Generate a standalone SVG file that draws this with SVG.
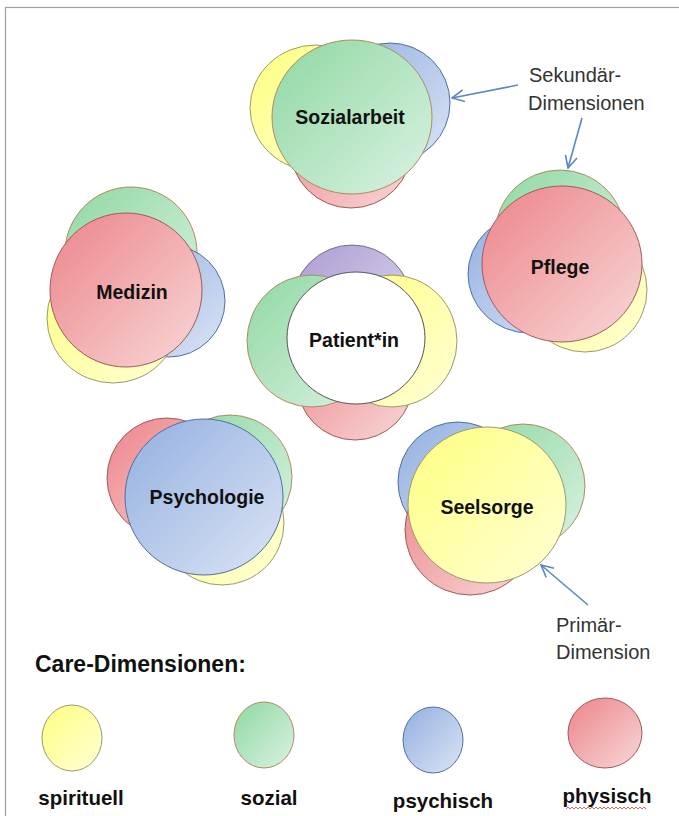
<svg xmlns="http://www.w3.org/2000/svg" width="679" height="816" viewBox="0 0 679 816">
<defs>
<linearGradient id="gY" x1="0" y1="0" x2="1" y2="1"><stop offset="0" stop-color="#ffff80"/><stop offset="1" stop-color="#ffffd6"/></linearGradient>
<linearGradient id="gG" x1="0" y1="0" x2="1" y2="1"><stop offset="0" stop-color="#8fd8a2"/><stop offset="1" stop-color="#daf2e2"/></linearGradient>
<linearGradient id="gB" x1="0" y1="0" x2="1" y2="1"><stop offset="0" stop-color="#93b0e0"/><stop offset="1" stop-color="#dbe4f4"/></linearGradient>
<linearGradient id="gR" x1="0" y1="0" x2="1" y2="1"><stop offset="0" stop-color="#ec8489"/><stop offset="1" stop-color="#f8d8d8"/></linearGradient>
<linearGradient id="gP" x1="0" y1="0" x2="1" y2="1"><stop offset="0" stop-color="#ab9cd2"/><stop offset="1" stop-color="#e2dcef"/></linearGradient>
<marker id="ah" viewBox="0 0 14 14" refX="13" refY="7" markerWidth="14" markerHeight="14" markerUnits="userSpaceOnUse" orient="auto">
<path d="M1,1 L13,7 L1,13" fill="none" stroke="#5b87c5" stroke-width="1.6"/>
</marker>
<style>
.y{fill:url(#gY);stroke:#9a9a68;stroke-width:1}
.g{fill:url(#gG);stroke:#b08a60;stroke-width:1}
.b{fill:url(#gB);stroke:#4d6fa8;stroke-width:1}
.r{fill:url(#gR);stroke:#a05a5a;stroke-width:1}
.p{fill:url(#gP);stroke:#7a6a9a;stroke-width:1}
.w{fill:#ffffff;stroke:#555;stroke-width:1}
.lbl{font-family:"Liberation Sans",Arial,sans-serif;font-weight:bold;font-size:19.5px;fill:#111;text-anchor:middle}
.note{font-family:"Liberation Sans",Arial,sans-serif;font-size:20px;fill:#333}
.leg{font-family:"Liberation Sans",Arial,sans-serif;font-weight:bold;font-size:20.5px;fill:#111;text-anchor:middle}
.arr{stroke:#5b87c5;stroke-width:1.6;fill:none}
</style>
</defs>
<rect x="5.5" y="7.5" width="690" height="830" fill="#ffffff" stroke="#a0a0a0" stroke-width="1.2"/>

<g id="sozialarbeit">
<ellipse class="y" cx="316" cy="108" rx="66" ry="63"/>
<ellipse class="b" cx="390" cy="103" rx="60" ry="60"/>
<ellipse class="r" cx="351" cy="147" rx="61" ry="61"/>
<ellipse class="g" cx="352" cy="117" rx="80" ry="77"/>
<text class="lbl" x="350" y="124">Sozialarbeit</text>
</g>

<g id="patient">
<ellipse class="p" cx="352" cy="306" rx="60" ry="61"/>
<ellipse class="r" cx="355" cy="382" rx="58" ry="58"/>
<ellipse class="g" cx="312" cy="341" rx="65" ry="66"/>
<ellipse class="y" cx="392" cy="341" rx="65" ry="66"/>
<ellipse class="w" cx="356" cy="338" rx="69" ry="66"/>
<text class="lbl" x="354" y="347">Patient*in</text>
</g>

<g id="medizin">
<ellipse class="g" cx="131" cy="253" rx="66" ry="66"/>
<ellipse class="b" cx="169" cy="301" rx="56" ry="56"/>
<ellipse class="y" cx="113" cy="318" rx="66" ry="65"/>
<ellipse class="r" cx="126" cy="290" rx="76" ry="77"/>
<text class="lbl" x="132" y="299">Medizin</text>
</g>

<g id="pflege">
<ellipse class="g" cx="560" cy="235" rx="65" ry="65"/>
<ellipse class="b" cx="529" cy="274" rx="61" ry="59"/>
<ellipse class="y" cx="585" cy="290" rx="62" ry="62"/>
<ellipse class="r" cx="562" cy="264" rx="80" ry="78"/>
<text class="lbl" x="560" y="274">Pflege</text>
</g>

<g id="psychologie">
<ellipse class="r" cx="167" cy="478" rx="60" ry="60"/>
<ellipse class="g" cx="230" cy="477" rx="62" ry="62"/>
<ellipse class="y" cx="222" cy="523" rx="62" ry="62"/>
<ellipse class="b" cx="204" cy="497" rx="79" ry="78"/>
<text class="lbl" x="207" y="504">Psychologie</text>
</g>

<g id="seelsorge">
<ellipse class="b" cx="458" cy="482" rx="60" ry="60"/>
<ellipse class="g" cx="523" cy="486" rx="62" ry="62"/>
<ellipse class="r" cx="470" cy="530" rx="65" ry="65"/>
<ellipse class="y" cx="487" cy="505" rx="79" ry="78"/>
<text class="lbl" x="487" y="514">Seelsorge</text>
</g>

<g id="connectors">
<line class="arr" x1="518" y1="85" x2="452" y2="98" marker-end="url(#ah)"/>
<line class="arr" x1="582" y1="118" x2="568" y2="168" marker-end="url(#ah)"/>
<line class="arr" x1="588" y1="605" x2="541" y2="565" marker-end="url(#ah)"/>
</g>

<g id="annotations">
<text class="note" x="529" y="82">Sekundär-</text>
<text class="note" x="528" y="110">Dimensionen</text>
<text class="note" x="556" y="632">Primär-</text>
<text class="note" x="556" y="659">Dimension</text>
</g>

<g id="legend">
<text x="35" y="672" font-family="'Liberation Sans',Arial,sans-serif" font-weight="bold" font-size="23" fill="#111">Care-Dimensionen:</text>
<ellipse class="y" cx="72" cy="738" rx="30" ry="33"/>
<ellipse class="g" cx="264" cy="735" rx="30" ry="33"/>
<ellipse class="b" cx="433" cy="740" rx="30" ry="33"/>
<ellipse class="r" cx="605" cy="733" rx="37" ry="35"/>
<text class="leg" x="81" y="805">spirituell</text>
<text class="leg" x="269" y="805">sozial</text>
<text class="leg" x="443" y="808">psychisch</text>
<text class="leg" x="607" y="803">physisch</text>
<path d="M566,809 l2,-2 l2,2 l2,-2 l2,2 l2,-2 l2,2 l2,-2 l2,2 l2,-2 l2,2 l2,-2 l2,2 l2,-2 l2,2 l2,-2 l2,2 l2,-2 l2,2 l2,-2 l2,2 l2,-2 l2,2 l2,-2 l2,2 l2,-2 l2,2 l2,-2 l2,2 l2,-2 l2,2 l2,-2 l2,2 l2,-2 l2,2 l2,-2 l2,2 l2,-2 l2,2 l2,-2 l2,2" fill="none" stroke="#d04040" stroke-width="0.8"/>
</g>
</svg>
